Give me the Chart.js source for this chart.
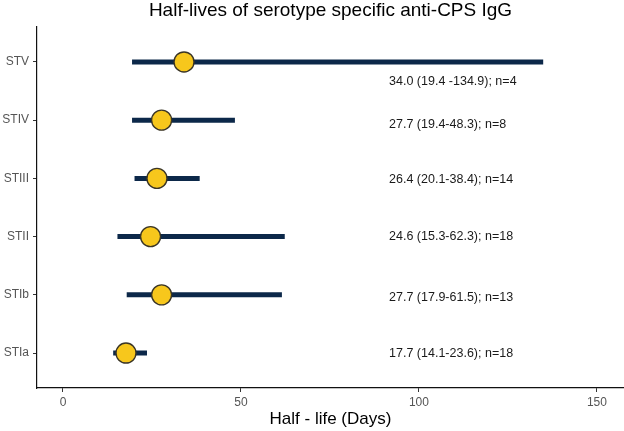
<!DOCTYPE html>
<html>
<head>
<meta charset="utf-8">
<script src="https://cdn.jsdelivr.net/npm/chart.js@4"></script>
<style>
  html, body { margin: 0; padding: 0; background: #fff; }
  #wrap { width: 624px; height: 431px; position: relative; }
</style>
</head>
<body>
<div id="wrap"><canvas id="chart"></canvas></div>
<script>
// serotypes, bottom to top
const serotypes = ['STIa', 'STIb', 'STII', 'STIII', 'STIV', 'STV'];
const halfLife = [17.7, 27.7, 24.6, 26.4, 27.7, 34.0];
const ciLower = [14.1, 17.9, 15.3, 20.1, 19.4, 19.4];
const ciUpper = [23.6, 61.5, 62.3, 38.4, 48.3, 134.9];
const labelText = [
    '17.7 (14.1-23.6); n=18',
    '27.7 (17.9-61.5); n=13',
    '24.6 (15.3-62.3); n=18',
    '26.4 (20.1-38.4); n=14',
    '27.7 (19.4-48.3); n=8',
    '34.0 (19.4 -134.9); n=4'
];
const labelY = [1, 1.95, 3, 3.98, 4.92, 5.66];
const labelX = 91.6;
const xTicks = [0, 50, 100, 150];

const FONT = '"Liberation Sans", Arial, sans-serif';
const NAVY = '#0c2849';
const YELLOW = '#f7c71c';

// one line dataset per interval
const ciSets = serotypes.map((s, i) => ({
    type: 'scatter',
    label: s + ' CI',
    data: [{ x: ciLower[i], y: i + 1 }, { x: ciUpper[i], y: i + 1 }],
    showLine: true,
    borderColor: NAVY,
    borderWidth: 5,
    borderCapStyle: 'butt',
    pointRadius: 0,
    order: 2
}));

const pointSet = {
    type: 'scatter',
    label: 'Half-life',
    data: halfLife.map((v, i) => ({ x: v, y: i + 1 })),
    pointRadius: 10,
    pointHoverRadius: 10,
    backgroundColor: YELLOW,
    borderColor: '#3a3526',
    borderWidth: 1.4,
    order: 1
};

const textPlugin = {
    id: 'textPlugin',
    afterDatasetsDraw(chart) {
        const ctx = chart.ctx;
        const xs = chart.scales.x;
        const ys = chart.scales.y;
        ctx.save();
        ctx.fillStyle = '#1a1a1a';
        ctx.font = '12.5px ' + FONT;
        ctx.textAlign = 'left';
        ctx.textBaseline = 'middle';
        labelText.forEach((t, i) => {
            ctx.fillText(t, xs.getPixelForValue(labelX), ys.getPixelForValue(labelY[i]));
        });
        // chart title
        const area = chart.chartArea;
        ctx.font = '19px ' + FONT;
        ctx.textAlign = 'center';
        ctx.textBaseline = 'alphabetic';
        ctx.fillStyle = '#000';
        ctx.fillText('Half-lives of serotype specific anti-CPS IgG', (area.left + area.right) / 2, 16);
        ctx.restore();
    }
};

new Chart(document.getElementById('chart'), {
    type: 'scatter',
    data: { datasets: [...ciSets, pointSet] },
    options: {
        responsive: true,
        maintainAspectRatio: false,
        animation: false,
        layout: { autoPadding: false, padding: { top: 27, right: 0, left: 0, bottom: 0 } },
        plugins: {
            legend: { display: false },
            tooltip: { enabled: false }
        },
        scales: {
            x: {
                type: 'linear',
                min: -7.3,
                max: 157.6,
                afterBuildTicks: scale => { scale.ticks = xTicks.map(v => ({ value: v })); },
                afterFit: scale => {
                    scale.height = 43;
                    scale.paddingLeft = 0;
                    scale.paddingRight = 0;
                },
                grid: { drawOnChartArea: false, tickLength: 4, color: '#333', tickWidth: 1 },
                border: { color: '#111', width: 1.2 },
                ticks: { color: '#555', font: { family: FONT, size: 12 }, padding: 3 },
                title: {
                    display: true,
                    text: 'Half - life (Days)',
                    color: '#000',
                    font: { family: FONT, size: 17 },
                    padding: { top: 0, bottom: 1 }
                }
            },
            y: {
                type: 'linear',
                min: 0.4,
                max: 6.6,
                afterBuildTicks: scale => { scale.ticks = serotypes.map((s, i) => ({ value: i + 1 })); },
                afterFit: scale => {
                    scale.width = 37;
                    scale.paddingTop = 0;
                    scale.paddingBottom = 0;
                },
                grid: { drawOnChartArea: false, tickLength: 4, color: '#333', tickWidth: 1 },
                border: { color: '#111', width: 1.2 },
                ticks: {
                    color: '#555',
                    font: { family: FONT, size: 12 },
                    padding: 4,
                    callback: v => serotypes[Math.round(v) - 1]
                }
            }
        }
    },
    plugins: [textPlugin]
});
</script>
</body>
</html>
